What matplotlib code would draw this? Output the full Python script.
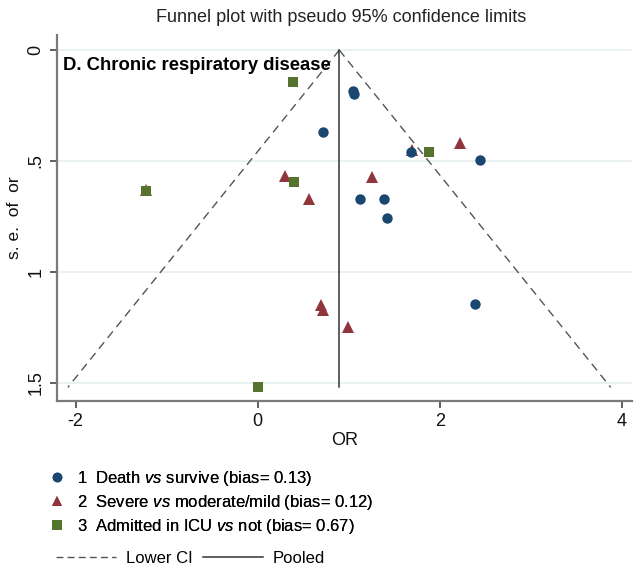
import matplotlib
matplotlib.use("Agg")
import matplotlib.pyplot as plt
import numpy as np
from matplotlib.lines import Line2D

# ---------------- data ----------------
death_or = [1.05, 1.06, 0.713, 1.683, 2.44, 1.126, 1.386, 1.416, 2.386]
death_se = [0.183, 0.198, 0.368, 0.461, 0.496, 0.672, 0.672, 0.756, 1.147]

severe_or = [1.697, 2.221, 0.299, 1.251, 0.566, 0.691, 0.72, 0.987, -1.231]
severe_se = [0.451, 0.421, 0.567, 0.574, 0.670, 1.150, 1.172, 1.250, 0.633]

icu_or = [0.39, 1.884, 0.401, -1.231, 0.0]
icu_se = [0.146, 0.461, 0.594, 0.636, 1.521]

pooled = 0.895
se_max = 1.521
z = 1.96

labels = [
    r"1  Death $\it{vs}$ survive (bias= 0.13)",
    r"2  Severe $\it{vs}$ moderate/mild (bias= 0.12)",
    r"3  Admitted in ICU $\it{vs}$ not (bias= 0.67)",
]
line_labels = ["Lower CI", "Pooled"]
xticks = [-2, 0, 2, 4]
yticks = [0, 0.5, 1, 1.5]
yticklabels = ["0", ".5", "1", "1.5"]

# ---------------- style ----------------
FONT = ["Liberation Sans", "DejaVu Sans"]
plt.rcParams["font.family"] = FONT
plt.rcParams["mathtext.fontset"] = "custom"
plt.rcParams["mathtext.rm"] = "Liberation Sans"
plt.rcParams["mathtext.it"] = "Liberation Sans:italic"

NAVY = "#1a476f"
MAROON = "#90353b"
GREEN = "#55752f"
GRID = "#e6eff0"
SPINE = "#7a7a7a"

W, H = 634, 571
fig = plt.figure(figsize=(W / 100, H / 100), dpi=100)
fig.patch.set_facecolor("white")

ax = fig.add_axes([57 / W, 1 - 400.7 / H, (632 - 57) / W, (400.7 - 35) / H])
ax.set_xlim(-2.205, 4.11)
ax.set_ylim(1.581, -0.068)

for yv in yticks:
    ax.axhline(yv, color=GRID, lw=1.2, zorder=0)

# funnel
se_line = np.array([0.0, se_max])
ax.plot(pooled - z * se_line, se_line, color="#555555", lw=1.0,
        dashes=(6, 4), zorder=1)
ax.plot(pooled + z * se_line, se_line, color="#555555", lw=1.0,
        dashes=(6, 4), zorder=1)
ax.plot([pooled, pooled], [0, se_max], color="#333333", lw=1.1, zorder=1)

ax.plot(severe_or, severe_se, linestyle="none", marker="^", ms=8,
        color=MAROON, mew=0, zorder=3)
ax.plot(death_or, death_se, linestyle="none", marker="o", ms=7.5,
        color=NAVY, mew=0, zorder=3)
ax.plot(icu_or, icu_se, linestyle="none", marker="s", ms=7,
        color=GREEN, mew=0, zorder=4)

ax.set_xticks(xticks)
ax.set_xticklabels([str(t) for t in xticks])
ax.set_yticks(yticks)
ax.set_yticklabels(yticklabels, rotation=90, va="center")
ax.tick_params(axis="both", length=5, width=1.2, color="#444444",
               labelsize=13, pad=4, labelcolor="#111111")

for s in ["top", "right"]:
    ax.spines[s].set_visible(False)
for s in ["left", "bottom"]:
    ax.spines[s].set_color(SPINE)
    ax.spines[s].set_linewidth(1.6)

ax.set_xlabel("OR", fontsize=13, labelpad=1, color="#111111")
ax.set_ylabel("s. e.  of  or", fontsize=12.5, labelpad=4, color="#111111")

ax.text(63 / W, 1 - 65 / H, "D. Chronic respiratory disease",
        transform=fig.transFigure, fontsize=13.3, fontweight="bold",
        ha="left", va="center", color="black", zorder=5)

fig.text(341 / W, 1 - 18 / H, "Funnel plot with pseudo 95% confidence limits",
         fontsize=13, ha="center", va="center", color="#222222")

# legend
handles = [
    Line2D([], [], linestyle="none", marker="o", ms=7, color=NAVY, mew=0),
    Line2D([], [], linestyle="none", marker="^", ms=7.5, color=MAROON, mew=0),
    Line2D([], [], linestyle="none", marker="s", ms=6.5, color=GREEN, mew=0),
]
leg1 = fig.legend(handles, labels, loc="upper left",
                  bbox_to_anchor=(50 / W, 1 - 469 / H), frameon=False,
                  fontsize=12, handlelength=0.8, handletextpad=0.8,
                  labelspacing=0.3, borderpad=0, borderaxespad=0)
fig.add_artist(leg1)

lh = [Line2D([], [], color="#555555", lw=1.0, dashes=(5, 3)),
      Line2D([], [], color="#333333", lw=1.1)]
fig.legend(lh, line_labels, loc="upper left", ncol=2,
           bbox_to_anchor=(56 / W, 1 - 551 / H), frameon=False,
           fontsize=12, handlelength=3.6, handletextpad=0.6,
           columnspacing=0.6, borderpad=0, borderaxespad=0)

fig.savefig("out.png", dpi=100, facecolor="white")
